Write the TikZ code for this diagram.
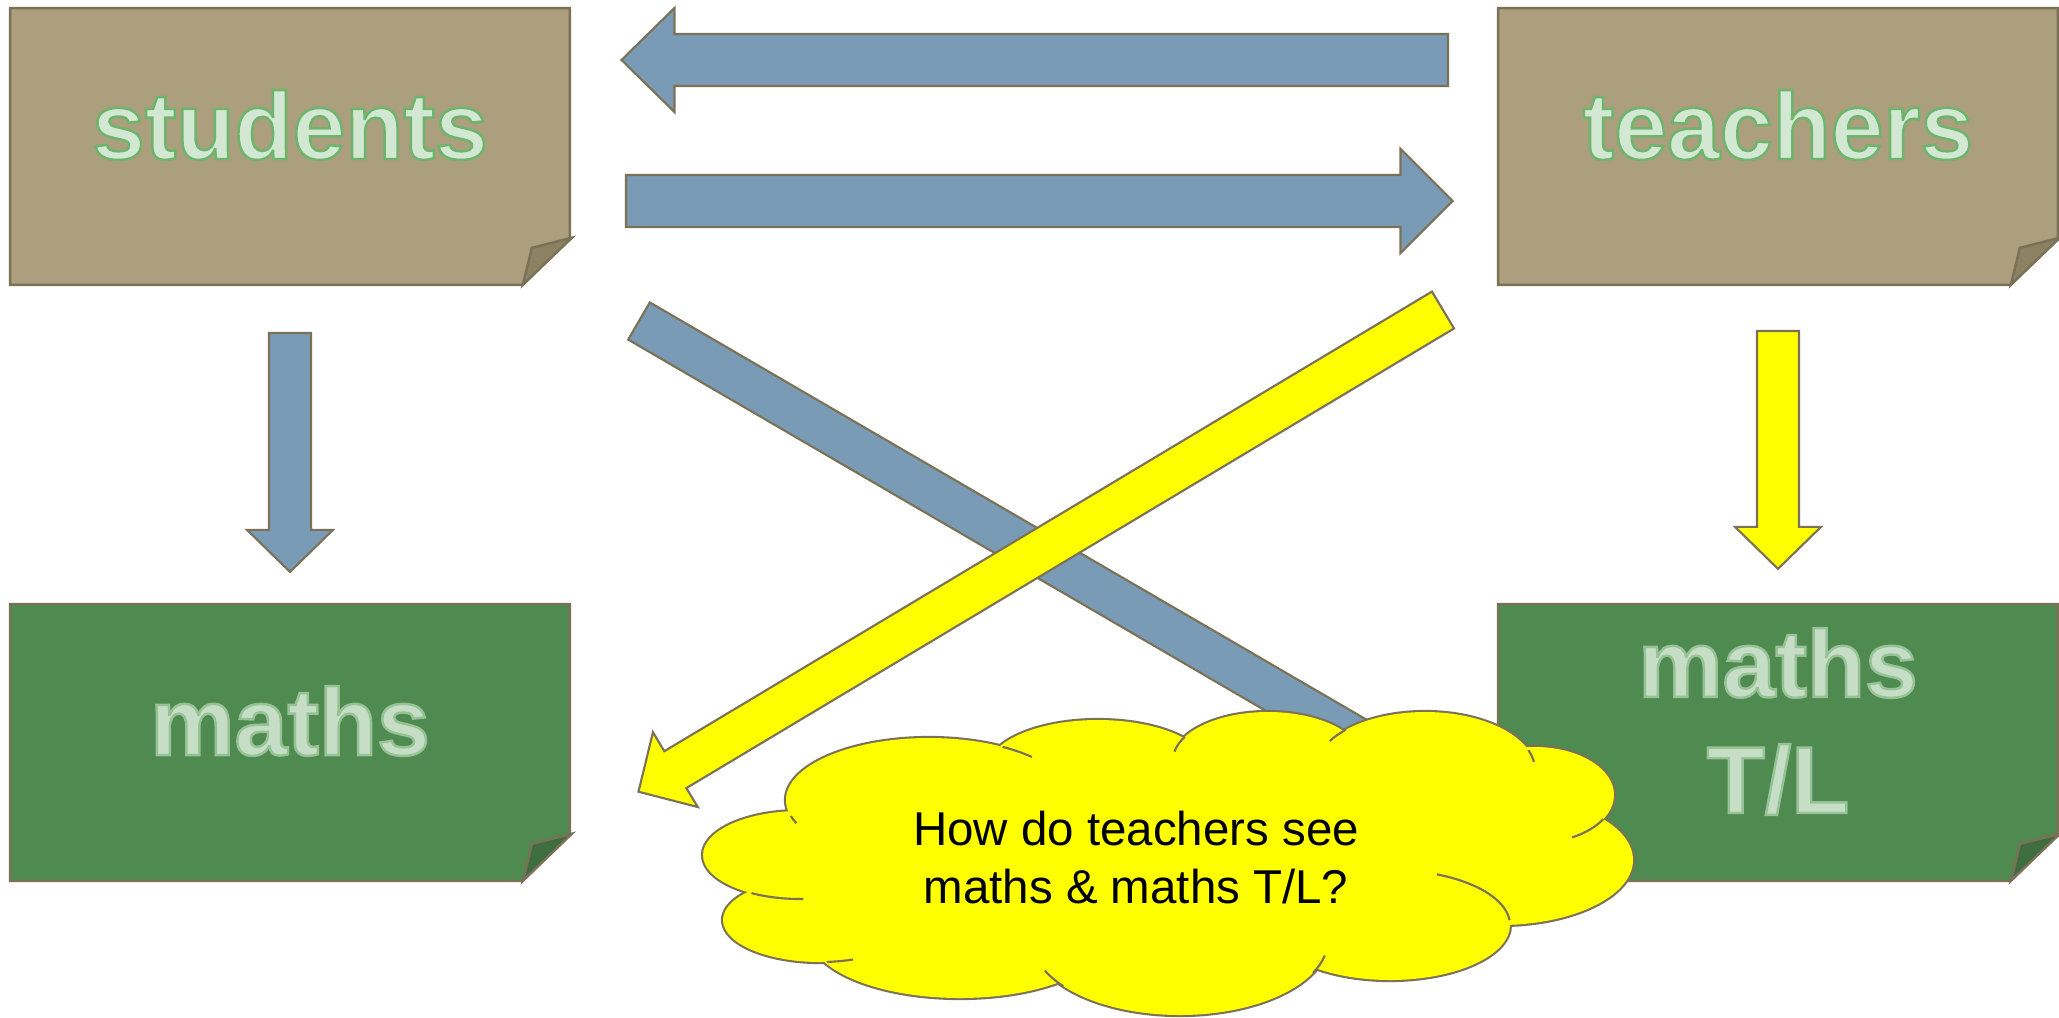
\documentclass[tikz,border=0pt]{standalone}
\usepackage{fontspec}
\setmainfont{Liberation Sans}
\usepackage{xcolor}
\usepackage{tikz}
\usetikzlibrary{calc, positioning}

\definecolor{boxtan}{HTML}{AB9F7D}
\definecolor{foldtan}{HTML}{8C8263}
\definecolor{boxgreen}{HTML}{4F8A50}
\definecolor{foldgreen}{HTML}{3E6E40}
\definecolor{edgegrey}{HTML}{7A7157}
\definecolor{arrowblue}{HTML}{7A9BB6}
\definecolor{brightyellow}{HTML}{FFFF00}
\definecolor{labelfill}{HTML}{D2E8D2}
\definecolor{mathsfill}{HTML}{C6DDC6}

% outlined text: #1 stroke rgb, #2 text
\newcommand{\outlined}[2]{\special{pdf:literal direct q 2 Tr 0.7 w #1 RG}#2\special{pdf:literal direct Q}}
\newcommand{\tanedge}{0.427 0.710 0.427}
\newcommand{\mathsedge}{0.588 0.761 0.588}

\tikzset{
  boxspace/.style={minimum width=5.58cm, minimum height=2.75cm, inner sep=0pt},
  boxline/.style={draw=edgegrey, line width=0.7pt},
  arrowline/.style={draw=edgegrey, line width=0.6pt},
  bluearrow/.style={arrowline, fill=arrowblue},
  yellowarrow/.style={arrowline, fill=brightyellow},
  tanlabel/.style={font=\fontsize{27}{30}\selectfont\bfseries, text=labelfill},
  mathslabel/.style={font=\fontsize{27}{33}\selectfont\bfseries, text=mathsfill, align=center},
  cloudline/.style={draw=edgegrey, line width=1.2pt},
  cloudtext/.style={font=\fontsize{13.5}{16.5}\selectfont, align=center}
}

% box with a turned-up corner: #1 node, #2 fill, #3 fold fill
\newcommand{\foldbox}[3]{%
  \filldraw[boxline, fill=#2] (#1.north west) -- (#1.north east)
    -- ($(#1.south east)+(0,-47)$) -- ($(#1.south east)+(-47,0)$)
    -- (#1.south west) -- cycle;
  \filldraw[boxline, fill=#3] ($(#1.south east)+(2,-47)$)
    -- ($(#1.south east)+(-38,-37)$) -- ($(#1.south east)+(-47,0)$) -- cycle;}

% block arrow: #1 style, #2 tail, #3 tip, #4 shaft half, #5 head half, #6 head length
\newcommand{\blockarrow}[6]{%
  \path let \p1=($(#3)-(#2)$) in \pgfextra{%
    \pgfmathsetmacro{\arrowangle}{atan2(\y1,\x1)}%
    \pgfmathsetmacro{\arrowlength}{veclen(\x1,\y1)/0.284528}%
    \xdef\arrowangle{\arrowangle}\xdef\arrowlength{\arrowlength}};
  \draw[#1, shift={(#2)}, rotate=\arrowangle]
    (0,-#4) -- (\arrowlength-#6,-#4) -- (\arrowlength-#6,-#5) -- (\arrowlength,0)
    -- (\arrowlength-#6,#5) -- (\arrowlength-#6,#4) -- (0,#4) -- cycle;}

\begin{document}
\begin{tikzpicture}[x=0.01cm, y=-0.01cm]
    \useasboundingbox (0,0) rectangle (2059,1017);

    % Boxes
    \node[boxspace] (students) at (290,146.5) {};
    \node[boxspace] (teachers) at (1778,146.5) {};
    \node[boxspace] (maths) at (290,742.5) {};
    \node[boxspace] (mathstl) at (1778,742.5) {};
    \foldbox{students}{boxtan}{foldtan}
    \foldbox{teachers}{boxtan}{foldtan}
    \foldbox{maths}{boxgreen}{foldgreen}
    \foldbox{mathstl}{boxgreen}{foldgreen}

    % Labels
    \node[tanlabel, anchor=base] (students-label) at (290,159) {\outlined{\tanedge}{students}};
    \node[tanlabel, anchor=base] (teachers-label) at (1778,159) {\outlined{\tanedge}{teachers}};
    \node[mathslabel, anchor=base] (maths-label) at (290,755) {\outlined{\mathsedge}{maths}};
    \node[mathslabel] (mathstl-label) at (1778,721.5) {\outlined{\mathsedge}{maths}\\\outlined{\mathsedge}{T/L}};

    % Arrow ends
    \coordinate (t2s-tail) at (1448,60);
    \coordinate (t2s-tip) at (621,60);
    \coordinate (s2t-tail) at (626,201);
    \coordinate (s2t-tip) at (1453,201);
    \coordinate (s2m-tail) at (290,333);
    \coordinate (s2m-tip) at (290,572);
    \coordinate (t2tl-tail) at (1778,331);
    \coordinate (t2tl-tip) at (1778,569);
    \coordinate (s2tl-tail) at (639,321);
    \coordinate (s2tl-tip) at (1460,799);
    \coordinate (t2m-tail) at (1443,310);
    \coordinate (t2m-tip) at (638,792);

    % Arrows
    \blockarrow{bluearrow}{t2s-tail}{t2s-tip}{26}{52}{53}
    \blockarrow{bluearrow}{s2t-tail}{s2t-tip}{26}{52}{52}
    \blockarrow{bluearrow}{s2m-tail}{s2m-tip}{21}{43}{42}
    \blockarrow{yellowarrow}{t2tl-tail}{t2tl-tip}{21}{43}{42}
    \blockarrow{bluearrow}{s2tl-tail}{s2tl-tip}{21.5}{43.5}{43}
    \blockarrow{yellowarrow}{t2m-tail}{t2m-tip}{21.5}{43.6}{43}

    % Cloud
    \foreach \cx/\cy/\rx/\ry in {929/800/143/62, 1098/768/110/48, 1268/760/95/48,
        1425/770/110/58, 1535/795/79/48, 1500/860/133/65, 1390/925/120/55,
        1180/940/148/75, 960/935/150/63, 820/920/97/42, 800/855/97/44}
      \filldraw[cloudline, fill=brightyellow] (\cx,\cy) ellipse [x radius=\rx, y radius=\ry];
    \foreach \cx/\cy/\rx/\ry in {929/800/143/62, 1098/768/110/48, 1268/760/95/48,
        1425/770/110/58, 1535/795/79/48, 1500/860/133/65, 1390/925/120/55,
        1180/940/148/75, 960/935/150/63, 820/920/97/42, 800/855/97/44}
      \fill[brightyellow] (\cx,\cy) ellipse [x radius=\rx, y radius=\ry];
    \fill[brightyellow] (1170,850) ellipse [x radius=360, y radius=110];
    % inner arcs
    \foreach \cx/\cy/\rx/\ry/\ta/\tb in {929/800/143/62/-59/-44, 1268/760/95/48/-151/-170,
        1425/770/110/58/-136/-150, 1425/770/110/58/-20/-8, 1535/795/79/48/30/62,
        1390/925/120/55/-5/-67, 1180/940/148/75/26/12, 1180/940/148/75/142/156,
        820/920/97/42/86/70, 800/855/97/44/120/88, 929/800/143/62/165/158}
      \draw[draw=edgegrey, line width=0.6pt] (\cx,\cy) ++({\rx*cos(\ta)},{\ry*sin(\ta)})
        arc[start angle=\ta, end angle=\tb, x radius=\rx, y radius=\ry];
    \node[cloudtext] (question) at (1136,857.5) {How do teachers see\\maths \& maths T/L?};
\end{tikzpicture}
\end{document}
